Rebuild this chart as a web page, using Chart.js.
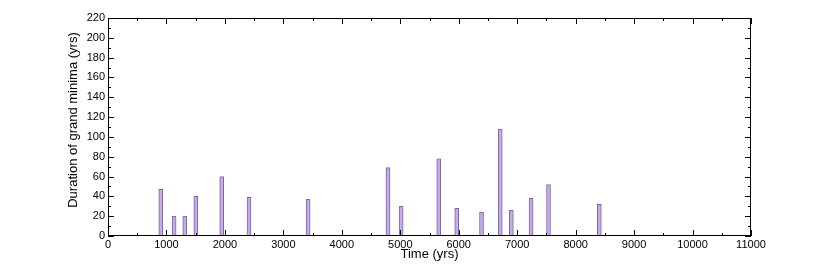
<!DOCTYPE html>
<html>
<head>
<meta charset="utf-8">
<script src="https://cdn.jsdelivr.net/npm/chart.js@4"></script>
<style>
  html, body { margin: 0; padding: 0; background: #fff; }
  #wrap { width: 830px; height: 265px; }
</style>
</head>
<body>
<div id="wrap"><canvas id="minimaChart" width="830" height="265"></canvas></div>
<script>
// grand minima: start time (yrs) and duration (yrs)
const times = [903, 1131, 1314, 1503, 1945, 2412, 3423, 4789, 5015, 5658, 5966, 6390, 6710, 6900, 7237, 7536, 8405];
const durations = [47, 20, 20, 40, 60, 39, 37, 69, 30, 78, 28, 24, 108, 26, 38, 52, 32];
const xTicks = [0, 1000, 2000, 3000, 4000, 5000, 6000, 7000, 8000, 9000, 10000, 11000];
const yTicks = [0, 20, 40, 60, 80, 100, 120, 140, 160, 180, 200, 220];

const FONT = '"Liberation Sans", Arial, sans-serif';

// inward ticks on all four sides + axis titles
const framePlugin = {
    id: 'frame',
    afterDraw(chart) {
        const ctx = chart.ctx;
        const a = chart.chartArea;
        const xs = chart.scales.x, ys = chart.scales.y;
        ctx.save();
        ctx.strokeStyle = '#000';
        ctx.lineWidth = 1;
        ctx.strokeRect(a.left + 0.5, a.top + 0.5, a.right - a.left - 1, a.bottom - a.top - 1);
        ctx.beginPath();
        for (let v = 0; v <= 11000; v += 500) {
            const px = Math.round(xs.getPixelForValue(v)) + 0.5;
            const len = v % 1000 === 0 ? 6 : 3;
            ctx.moveTo(px, a.bottom); ctx.lineTo(px, a.bottom - len);
            ctx.moveTo(px, a.top); ctx.lineTo(px, a.top + len);
        }
        for (let v = 0; v <= 220; v += 10) {
            const py = Math.round(ys.getPixelForValue(v)) + 0.5;
            const len = v % 20 === 0 ? 6 : 3;
            ctx.moveTo(a.left, py); ctx.lineTo(a.left + len, py);
            ctx.moveTo(a.right, py); ctx.lineTo(a.right - len, py);
        }
        ctx.stroke();
        ctx.fillStyle = '#000';
        ctx.font = '13px ' + FONT;
        ctx.textAlign = 'center';
        ctx.textBaseline = 'middle';
        ctx.fillText('Time (yrs)', (a.left + a.right) / 2, 254);
        ctx.translate(73, 120);
        ctx.rotate(-Math.PI / 2);
        ctx.fillText('Duration of grand minima (yrs)', 0, 0);
        ctx.restore();
    }
};

const ctx = document.getElementById('minimaChart').getContext('2d');
new Chart(ctx, {
    type: 'bar',
    data: {
        datasets: [{
            label: 'Grand minima',
            data: times.map((t, i) => ({ x: t, y: durations[i] })),
            backgroundColor: '#c6a9f5',
            borderColor: '#7a6a8c',
            borderWidth: 1,
            barThickness: 4
        }]
    },
    options: {
        responsive: false,
        animation: false,
        layout: { padding: { top: 18, right: 79, left: 0, bottom: 0 } },
        plugins: { legend: { display: false }, tooltip: { enabled: false } },
        scales: {
            x: {
                type: 'linear',
                offset: false,
                min: 0, max: 11000,
                afterBuildTicks: s => { s.ticks = xTicks.map(v => ({ value: v })); },
                afterFit: s => { s.height = 29; },
                grid: { display: false, drawTicks: false, offset: false },
                border: { display: false },
                ticks: { color: '#000', font: { family: FONT, size: 11 }, padding: 2, maxRotation: 0, autoSkip: false,
                         callback: v => String(v) }
            },
            y: {
                min: 0, max: 220,
                afterBuildTicks: s => { s.ticks = yTicks.map(v => ({ value: v })); },
                afterFit: s => { s.width = 108; },
                grid: { display: false, drawTicks: false },
                border: { display: false },
                ticks: { color: '#000', font: { family: FONT, size: 11 }, padding: 3, autoSkip: false }
            }
        }
    },
    plugins: [framePlugin]
});
</script>
</body>
</html>
